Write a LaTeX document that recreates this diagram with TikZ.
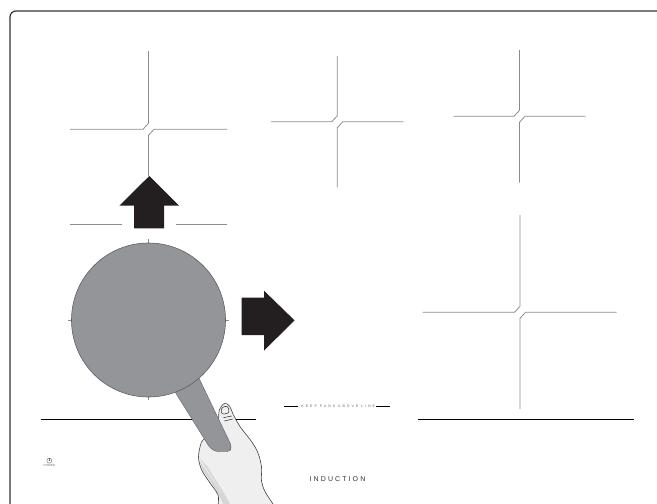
\documentclass[tikz,border=0pt]{standalone}
\usepackage{fontspec}
\usetikzlibrary{positioning}
\setmainfont{Liberation Sans}
\newfontfamily\keepfont[LetterSpace=54]{Liberation Sans}
\newfontfamily\brandfont[LetterSpace=30]{Liberation Sans}
\definecolor{zonegray}{HTML}{8C8C8C}
\definecolor{panfill}{HTML}{939598}
\definecolor{panedge}{HTML}{5E5F62}
\definecolor{arrowdark}{HTML}{231F20}
\definecolor{skin}{HTML}{EFEFEF}
\definecolor{skinshade}{HTML}{D6D6D6}

\begin{document}
\begin{tikzpicture}[x=1pt, y=-1pt,
    zone/.style={draw=zonegray, line width=0.8pt},
    rim/.style={draw=black, line width=1pt},
    handline/.style={draw=black!75, line width=0.6pt},
    bigarrow/.style={fill=arrowdark}]
 \useasboundingbox (0,0) rectangle (657,504);
 % glass top
 \draw[draw=black!80, line width=1.2pt, rounded corners=6pt] (10,504) -- (10,11) -- (657,11);

 % cooking zones
 \foreach \cx/\cy/\lx/\rx/\ty/\by in {148.5/129.3/70/227/51/176,
     337.3/121.7/271/403.3/56/187.3, 519.5/116.3/453.7/585.7/50/182.7,
     520/312.3/422.7/616.7/215/409}{
   \draw[zone] (\cx,\ty) -- (\cx,\cy-6) -- (\cx-5.5,\cy) -- (\lx,\cy);
   \draw[zone] (\rx,\cy) -- (\cx+5.5,\cy) -- (\cx,\cy+6) -- (\cx,\by);
 }
 \draw[zone] (70,224.3) -- (121.7,224.3);
 \draw[zone] (176,224.3) -- (227,224.3);
 \draw[zone] (148.5,239) -- (148.5,400);
 \draw[zone] (68,320) -- (229,320);

 % pan line
 \draw[rim] (41,419) -- (256.4,419);
 \draw[rim] (418,419) -- (634,419);

 % hand
 \fill[skin] plot[smooth cycle, tension=0.55] coordinates {(224.5,403.5) (229.5,406) (233,414)
   (240,426.5) (251.5,441.5) (258,453) (261.5,467) (261.5,481) (265,491.5) (273,504)
   (281,516) (224,516) (218,495) (210,483) (201.7,470) (198.5,457) (201.5,442)
   (207,437) (215,432) (218.3,424) (219.3,410)};
 \fill[skinshade] plot[smooth, tension=0.6] coordinates {(199.5,461) (203,470) (210.5,481.5)
   (218,493.5) (224,506)} -- (231,506) plot[smooth, tension=0.6] coordinates {(231,506)
   (224,493) (215,479) (207.5,467) (200,459)} -- cycle;
 \draw[handline] plot[smooth cycle, tension=0.55] coordinates {(224.5,403.5) (229.5,406) (233,414)
   (240,426.5) (251.5,441.5) (258,453) (261.5,467) (261.5,481) (265,491.5) (273,504)
   (281,516) (224,516) (218,495) (210,483) (201.7,470) (198.5,457) (201.5,442)
   (207,437) (215,432) (218.3,424) (219.3,410)};
 \draw[handline, rounded corners=2.5pt] (221.5,414.5) -- (221.3,407.5) -- (227.8,405.8) -- (229.5,413) -- cycle;
 \draw[handline] (223.3,417.7) -- (231.7,416);
 \draw[handline] (224.3,421) -- (232.7,419);

 % pan
 \fill[panfill, draw=panedge, line width=0.4pt, rounded corners=3pt] (178,372) -- (197,374)
   -- (231.5,446) -- (230,451.5) -- (215.5,451.5) -- (210,448) -- (174.5,391) -- cycle;
 \node (pan) [circle, minimum size=154pt, inner sep=0pt, fill=panfill,
   draw=panedge, line width=0.6pt] at (148.5,320) {};

 % move directions
 \fill[bigarrow] (149.3,176) -- (179,205.7) -- (164,205.7) -- (164,228.3)
   -- (134,228.3) -- (134,205.7) -- (119.3,205.7) -- cycle;
 \fill[bigarrow] (294.5,320.3) -- (264,350.7) -- (264,335) -- (241.7,335)
   -- (241.7,297.7) -- (264,297.7) -- (264,290.7) -- cycle;

 % labels
 \node (keep) [inner sep=0pt, text=black!60, font=\keepfont\fontsize{3.6}{4}\selectfont]
   at (338.3,406.7) {KEEP PANS ABOVE LINE};
 \draw[rim] ([xshift=-3pt]keep.west) -- ++(-14,0);
 \draw[rim] ([xshift=1pt]keep.east) -- ++(14,0);
 \node (brand) [inner sep=0pt, text=black!80, font=\brandfont\fontsize{7}{8}\selectfont]
   at (337.5,479) {INDUCTION};
 \node (power) [circle, draw=black!60, line width=0.4pt, minimum size=5pt, inner sep=0pt]
   at (49.3,460.7) {};
 \draw[draw=black!60, line width=0.4pt] (power.north) -- (power.center);
 \node (powerlabel) [below=1pt of power, inner sep=0pt, text=black!60,
   font=\fontsize{3}{3.5}\selectfont] {POWER};
\end{tikzpicture}
\end{document}
